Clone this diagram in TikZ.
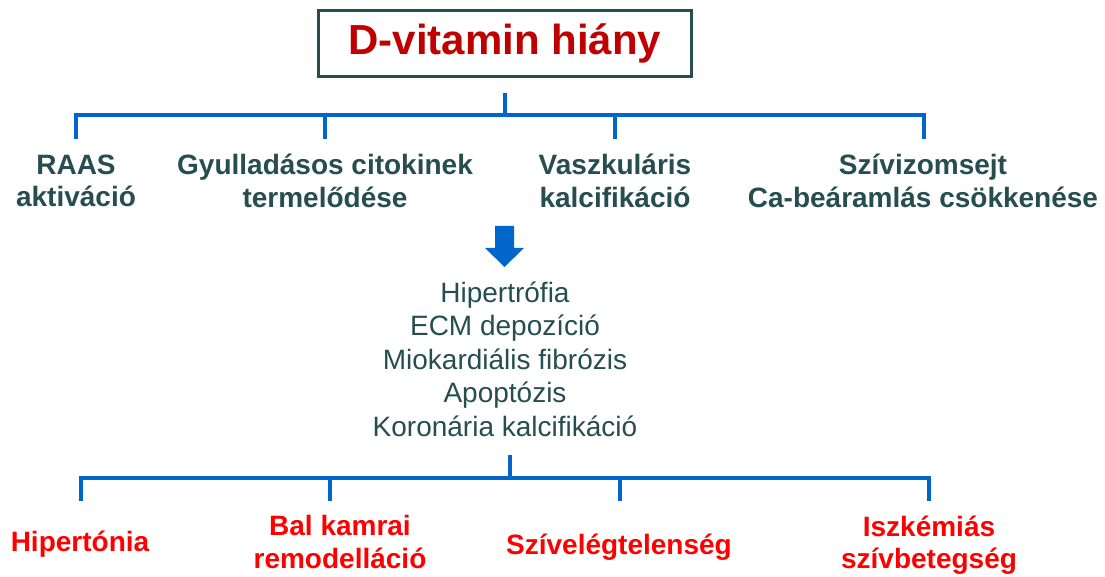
\documentclass[tikz,border=0pt]{standalone}
\usepackage{fontspec}
\setmainfont{Liberation Sans}
\definecolor{teal1}{HTML}{264D50}
\definecolor{blue1}{HTML}{0066CC}
\definecolor{red1}{HTML}{C00000}
\definecolor{red2}{HTML}{FF0000}
\tikzset{
  lbl/.style={align=center, font=\fontsize{28}{32.5}\selectfont\bfseries, text=teal1, inner sep=0pt},
  outc/.style={align=center, font=\fontsize{28}{32.5}\selectfont\bfseries, text=red2, inner sep=0pt},
  mid/.style={align=center, font=\fontsize{28}{33.5}\selectfont, text=teal1, inner sep=0pt},
  br/.style={draw=blue1, line width=3.5pt},
}
\begin{document}
\begin{tikzpicture}[x=1pt,y=-1pt]
\useasboundingbox (0,0) rectangle (1105,577);
% title
\node[draw=teal1, line width=3.5pt, minimum width=373pt, minimum height=66pt, inner sep=0pt,
      font=\fontsize{42}{48}\selectfont\bfseries, text=red1] (title) at (505,43.5) {D-vitamin hiány};
% top bracket
\coordinate (t0) at (505,93);
\coordinate (tj) at (505,115);
\coordinate (a1) at (76,115);
\coordinate (a2) at (325,115);
\coordinate (a3) at (615,115);
\coordinate (a4) at (924,115);
\coordinate (b1) at (76,139);
\coordinate (b2) at (325,139);
\coordinate (b3) at (615,139);
\coordinate (b4) at (924,139);
\draw[br] (t0) -- (tj);
\draw[br, line join=miter] (b1) -- (a1) -- (a4) -- (b4);
\draw[br] (a2) -- (b2);
\draw[br] (a3) -- (b3);
% top row
\node[lbl] (n1) at (76,181) {RAAS\\aktiváció};
\node[lbl] (n2) at (325,181) {Gyulladásos citokinek\\termelődése};
\node[lbl] (n3) at (615,181) {Vaszkuláris\\kalcifikáció};
\node[lbl] (n4) at (923,181) {Szívizomsejt\\Ca-beáramlás csökkenése};
% arrow
\fill[blue1] (495,226) -- (514,226) -- (514,248) -- (524,248) -- (504.5,267) -- (485,248) -- (495,248) -- cycle;
% middle
\node[mid] (m) at (505,359) {Hipertrófia\\ECM depozíció\\Miokardiális fibrózis\\Apoptózis\\Koronária kalcifikáció};
% bottom bracket
\coordinate (u0) at (510,455);
\coordinate (uj) at (510,478);
\coordinate (c1) at (81,478);
\coordinate (c2) at (330,478);
\coordinate (c3) at (620,478);
\coordinate (c4) at (929,478);
\coordinate (d1) at (81,501);
\coordinate (d2) at (330,501);
\coordinate (d3) at (620,501);
\coordinate (d4) at (929,501);
\draw[br] (u0) -- (uj);
\draw[br, line join=miter] (d1) -- (c1) -- (c4) -- (d4);
\draw[br] (c2) -- (d2);
\draw[br] (c3) -- (d3);
% bottom row
\node[outc] (o1) at (80,544) {Hipertónia};
\node[outc] (o2) at (340,542) {Bal kamrai\\remodelláció};
\node[outc] (o3) at (619,547) {Szívelégtelenség};
\node[outc] (o4) at (929,545) {Iszkémiás\\szívbetegség};
\end{tikzpicture}
\end{document}
